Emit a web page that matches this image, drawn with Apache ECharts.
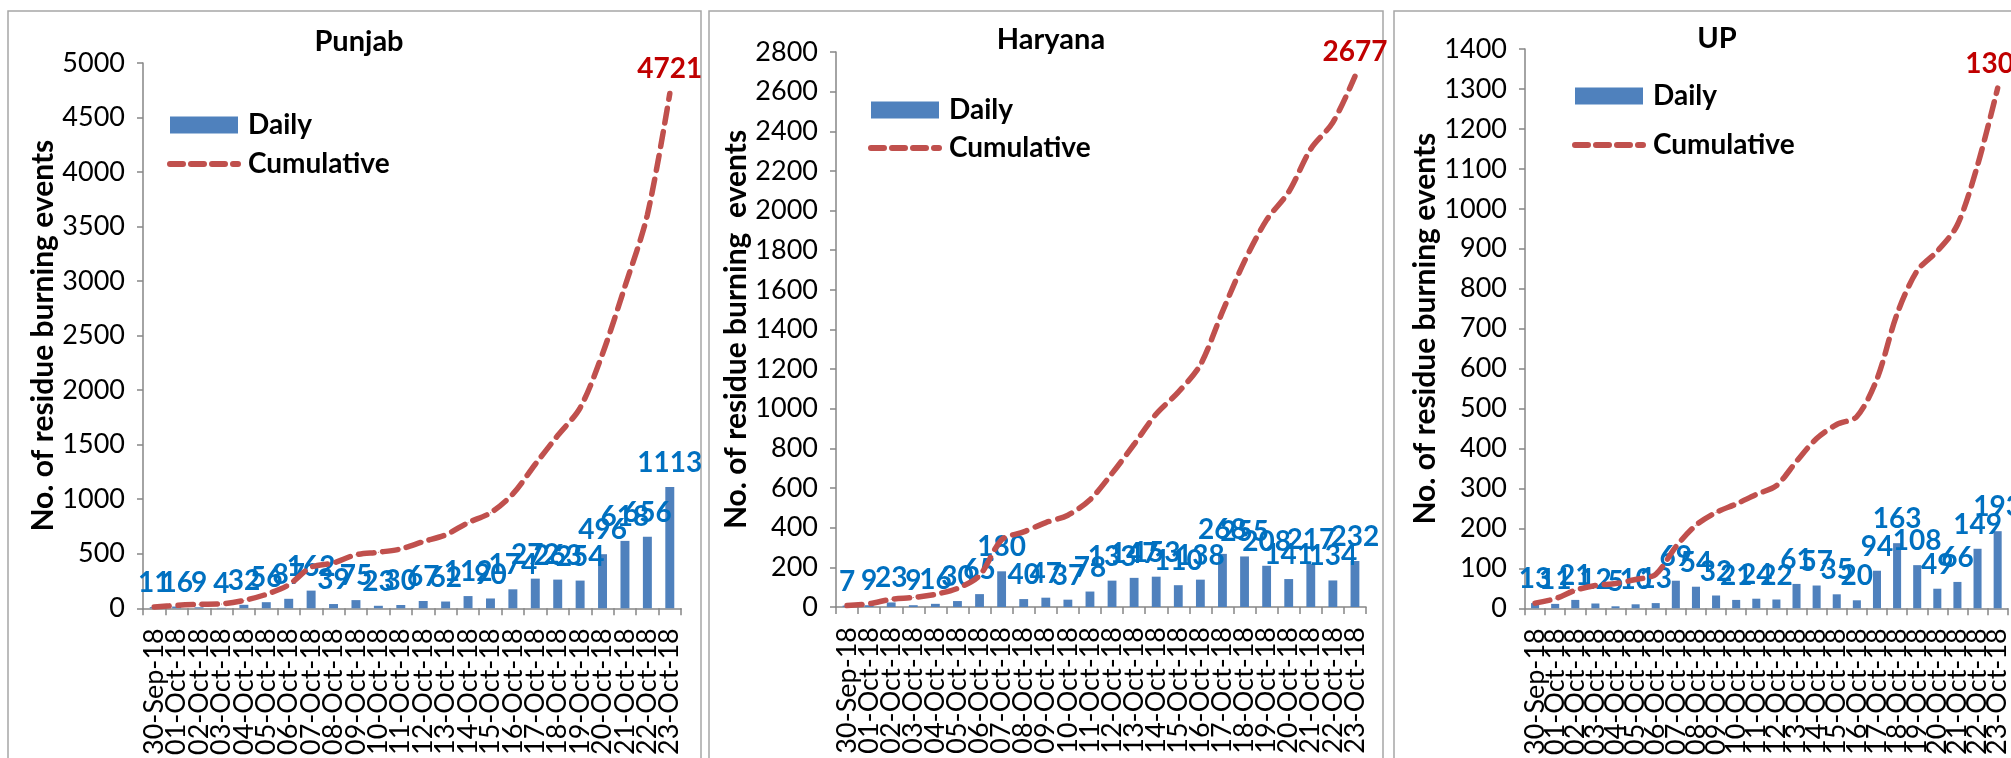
<!DOCTYPE html>
<html>
<head>
<meta charset="utf-8">
<title>Residue burning events</title>
<script src="https://cdn.jsdelivr.net/npm/echarts@6/dist/echarts.min.js"></script>
<style>
    html, body { margin: 0; padding: 0; background: #fff; }
    #main { width: 2011px; height: 758px; }
</style>
</head>
<body>
<div id="main"></div>
<script>
// 日期（横轴）
var dates = ['30-Sep-18', '01-Oct-18', '02-Oct-18', '03-Oct-18', '04-Oct-18', '05-Oct-18',
    '06-Oct-18', '07-Oct-18', '08-Oct-18', '09-Oct-18', '10-Oct-18', '11-Oct-18',
    '12-Oct-18', '13-Oct-18', '14-Oct-18', '15-Oct-18', '16-Oct-18', '17-Oct-18',
    '18-Oct-18', '19-Oct-18', '20-Oct-18', '21-Oct-18', '22-Oct-18', '23-Oct-18'];

// Punjab
var punjabDaily = [11, 16, 9, 4, 32, 56, 87, 162, 39, 75, 23, 30, 67, 62, 112, 90, 174, 272, 263, 254, 496, 618, 656, 1113];
var punjabCumulative = [11, 27, 36, 40, 72, 128, 215, 377, 416, 491, 514, 544, 611, 673, 785, 875, 1049, 1321, 1584, 1838, 2334, 2952, 3608, 4721];

// Haryana
var haryanaDaily = [7, 9, 23, 9, 16, 30, 65, 180, 40, 47, 37, 78, 133, 147, 153, 110, 138, 268, 255, 208, 141, 217, 134, 232];
var haryanaCumulative = [7, 16, 39, 48, 64, 94, 159, 339, 379, 426, 463, 541, 674, 821, 974, 1084, 1222, 1490, 1745, 1953, 2094, 2311, 2445, 2677];

// UP
var upDaily = [13, 11, 21, 12, 5, 10, 13, 69, 54, 32, 21, 24, 22, 61, 57, 35, 20, 94, 163, 108, 49, 66, 149, 193];
var upCumulative = [13, 24, 45, 57, 62, 72, 85, 154, 208, 240, 261, 285, 307, 368, 425, 460, 480, 574, 737, 845, 894, 960, 1109, 1302];

// 纵轴刻度 [max, interval]
var punjabTicks = [5000, 500];
var haryanaTicks = [2800, 200];
var upTicks = [1400, 100];

var FONT = 'Lato, "Liberation Sans", sans-serif';
var AXIS_COLOR = '#868686';
var LINE_COLOR = '#c0504d';

var ChartObject = {
    // 三个面板的位置
    Panels: [
        { title: 'Punjab', yName: 'No. of residue burning events', daily: punjabDaily, cum: punjabCumulative, ticks: punjabTicks,
          grid: { left: 143, top: 63, width: 538, height: 553 }, box: [8, 11, 693], titleX: 354, titleY: 22,
          legend: { left: 167, top: 111, itemGap: 11 } },
        { title: 'Haryana', yName: 'No. of residue burning  events', daily: haryanaDaily, cum: haryanaCumulative, ticks: haryanaTicks,
          grid: { left: 836, top: 52, width: 530, height: 555 }, box: [709, 11, 674], titleX: 1046, titleY: 20,
          legend: { left: 868, top: 96, itemGap: 10 } },
        { title: 'UP', yName: 'No. of residue burning events', daily: upDaily, cum: upCumulative, ticks: upTicks,
          grid: { left: 1525, top: 49, width: 490, height: 563 }, box: [1394, 11, 700], titleX: 1712, titleY: 19,
          legend: { left: 1572, top: 82, itemGap: 21 } }
    ],
    BuildOption: function () {
        var option = {
            backgroundColor: '#fff',
            animation: false,
            textStyle: { fontFamily: FONT },
            title: [], legend: [], grid: [], xAxis: [], yAxis: [], series: [], graphic: []
        };
        this.Panels.forEach(function (p, i) {
            var last = p.cum.length - 1;
            option.graphic.push({
                type: 'rect', silent: true, z: 0,
                shape: { x: p.box[0], y: p.box[1], width: p.box[2], height: 820 },
                style: { fill: null, stroke: '#a6a6a6', lineWidth: 1.5 }
            });
            option.title.push({
                text: p.title, left: p.titleX, top: p.titleY, textAlign: 'center',
                textStyle: { fontFamily: FONT, fontSize: 29, fontWeight: 'bold', color: '#000' }
            });
            option.legend.push({
                orient: 'vertical', left: p.legend.left, top: p.legend.top, itemGap: p.legend.itemGap,
                padding: 0, itemWidth: 68, itemHeight: 17, selectedMode: false,
                textStyle: { fontFamily: FONT, fontSize: 28, fontWeight: 'bold', color: '#000',
                    padding: [0, 0, 0, 5] },
                data: [
                    { name: 'Daily', icon: 'rect' },
                    // 图例中只要粗虚线，不要圆点
                    { name: 'Cumulative', itemStyle: { opacity: 0 },
                      lineStyle: { color: LINE_COLOR, width: 6, type: [13, 8], cap: 'round' } }
                ]
            });
            option.grid.push(p.grid);
            option.xAxis.push({
                type: 'category', gridIndex: i, data: dates, boundaryGap: true,
                axisLine: { lineStyle: { color: AXIS_COLOR, width: 1.5 } },
                axisTick: { show: true, interval: 0, length: 7, lineStyle: { color: AXIS_COLOR, width: 1.5 } },
                axisLabel: { interval: 0, rotate: 90, margin: 20, hideOverlap: false,
                    fontFamily: FONT, fontSize: 27, color: '#000' }
            });
            option.yAxis.push({
                type: 'value', gridIndex: i, min: 0, max: p.ticks[0], interval: p.ticks[1],
                name: p.yName, nameLocation: 'middle', nameRotate: 90, nameGap: 84,
                nameTextStyle: { fontFamily: FONT, fontSize: 30, fontWeight: 'bold', color: '#000' },
                splitLine: { show: false },
                axisLine: { show: true, lineStyle: { color: AXIS_COLOR, width: 1.5 } },
                axisTick: { show: true, length: 6, lineStyle: { color: AXIS_COLOR, width: 1.5 } },
                axisLabel: { margin: 18, fontFamily: FONT, fontSize: 27, color: '#000',
                    formatter: function (v) { return String(v); } }
            });
            option.series.push({
                name: 'Daily', type: 'bar', xAxisIndex: i, yAxisIndex: i,
                data: p.daily, barWidth: '40%',
                itemStyle: { color: '#4f81bd' },
                label: { show: true, position: 'top', distance: 10, color: '#0070c0',
                    fontFamily: FONT, fontSize: 28, fontWeight: 'bold' }
            });
            option.series.push({
                name: 'Cumulative', type: 'line', xAxisIndex: i, yAxisIndex: i,
                data: p.cum, smooth: 0.3, symbol: 'circle', symbolSize: 1, showAllSymbol: true, z: 3,
                itemStyle: { color: LINE_COLOR },
                lineStyle: { color: LINE_COLOR, width: 5.5, type: [15, 9], cap: 'round' },
                label: { show: true, position: 'top', distance: 10, color: '#c00000',
                    fontFamily: FONT, fontSize: 28, fontWeight: 'bold',
                    formatter: function (d) { return d.dataIndex === last ? String(d.value) : ''; } },
                labelLayout: { hideOverlap: false }
            });
        });
        return option;
    },
    RenderChart: function (id) {
        var chart = echarts.init(document.getElementById(id));
        chart.setOption(this.BuildOption(), true);
        return chart;
    }
};

ChartObject.RenderChart('main');
</script>
</body>
</html>
